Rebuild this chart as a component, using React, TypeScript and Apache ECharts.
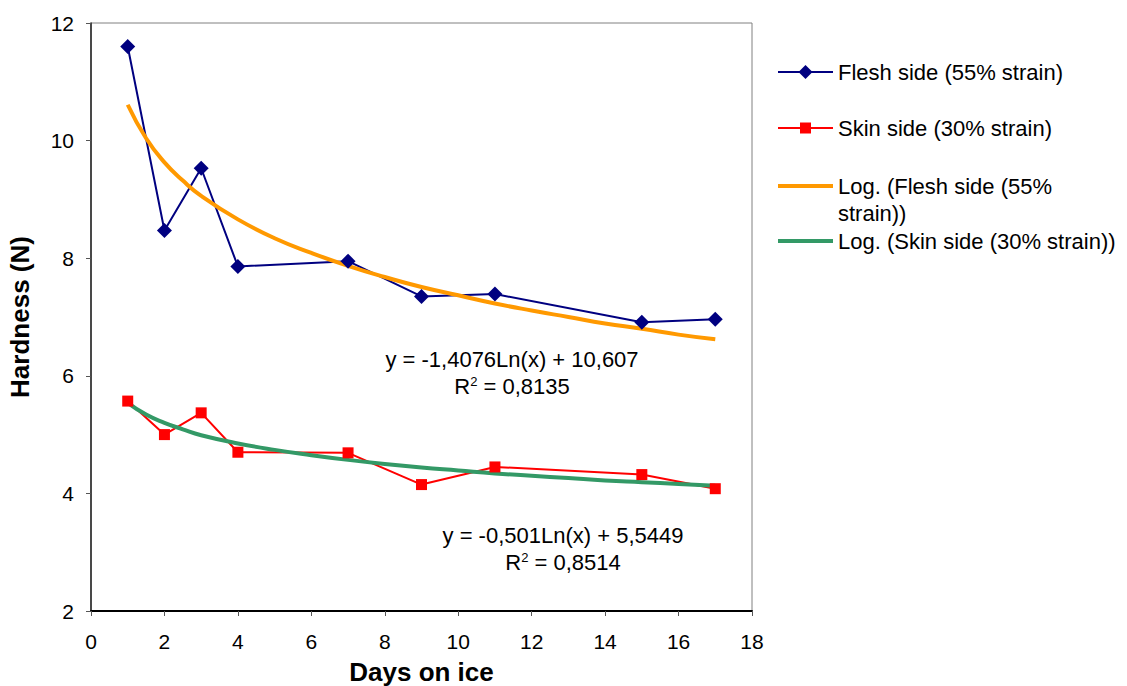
import React, { useEffect, useRef } from "react";
import * as echarts from "echarts";

const days = [1, 2, 3, 4, 7, 9, 11, 15, 17];
const flesh = [11.6, 8.47, 9.53, 7.86, 7.95, 7.35, 7.39, 6.91, 6.96];
const skin = [5.57, 5.0, 5.37, 4.7, 4.69, 4.15, 4.45, 4.32, 4.08];
const trendDays = [1, 1.5, 2, 2.5, 3, 4, 5, 6, 7, 8, 9, 10, 11, 12, 13, 14, 15, 16, 17];
const fleshTrend = [10.61, 10.04, 9.63, 9.32, 9.06, 8.66, 8.34, 8.09, 7.87, 7.68, 7.51, 7.37, 7.23, 7.11, 7.0, 6.89, 6.8, 6.7, 6.62];
const skinTrend = [5.54, 5.34, 5.2, 5.09, 4.99, 4.85, 4.74, 4.65, 4.57, 4.5, 4.44, 4.39, 4.34, 4.3, 4.26, 4.22, 4.19, 4.16, 4.13];

const seriesNames = [
  "Flesh side (55% strain)",
  "Skin side (30% strain)",
  "Log. (Flesh side (55% strain))",
  "Log. (Skin side (30% strain))",
];
const eqFlesh = "y = -1,4076Ln(x) + 10,607";
const r2Flesh = "0,8135";
const eqSkin = "y = -0,501Ln(x) + 5,5449";
const r2Skin = "0,8514";

const FONT = "Liberation Sans, Arial, sans-serif";
const NAVY = "#000080";
const RED = "#FF0000";
const ORANGE = "#FF9900";
const GREEN = "#339966";

const pairs = (xs: number[], ys: number[]) => xs.map((x, i) => [x, ys[i]]);

export default function App() {
  const ref = useRef<HTMLDivElement>(null);
  useEffect(() => {
    if (!ref.current) return;
    const chart = echarts.init(ref.current, null, { renderer: "svg" });
    const textStyle = { fontFamily: FONT, fontSize: 22, fill: "#000" };
    const legendX = 778;
    const legendItems = [
      { y: 72, color: NAVY, w: 2, marker: "diamond", lines: [seriesNames[0]] },
      { y: 128, color: RED, w: 2, marker: "square", lines: [seriesNames[1]] },
      { y: 186, color: ORANGE, w: 4, marker: "", lines: ["Log. (Flesh side (55%", "strain))"] },
      { y: 241, color: GREEN, w: 4, marker: "", lines: [seriesNames[3]] },
    ];
    const graphics: any[] = [];
    legendItems.forEach((it) => {
      graphics.push({
        type: "line",
        shape: { x1: legendX, y1: it.y, x2: legendX + 55, y2: it.y },
        style: { stroke: it.color, lineWidth: it.w },
      });
      if (it.marker === "diamond") {
        graphics.push({
          type: "polygon",
          shape: { points: [[legendX + 27.5, it.y - 7], [legendX + 34.5, it.y], [legendX + 27.5, it.y + 7], [legendX + 20.5, it.y]] },
          style: { fill: it.color },
        });
      } else if (it.marker === "square") {
        graphics.push({
          type: "rect",
          shape: { x: legendX + 22, y: it.y - 5.5, width: 11, height: 11 },
          style: { fill: it.color },
        });
      }
      it.lines.forEach((t, k) => {
        graphics.push({
          type: "text",
          x: legendX + 60,
          y: it.y + k * 27,
          style: { ...textStyle, text: t, verticalAlign: "middle", align: "left" },
        });
      });
    });
    const rich = {
      sup: { fontFamily: FONT, fontSize: 13, verticalAlign: "top", padding: [0, 0, 10, 0] },
    };
    graphics.push(
      { type: "text", x: 512, y: 359, style: { ...textStyle, text: eqFlesh, align: "center", verticalAlign: "middle" } },
      { type: "text", x: 512, y: 386, style: { ...textStyle, text: "R{sup|2} = " + r2Flesh, rich, align: "center", verticalAlign: "middle" } },
      { type: "text", x: 563, y: 535, style: { ...textStyle, text: eqSkin, align: "center", verticalAlign: "middle" } },
      { type: "text", x: 563, y: 562, style: { ...textStyle, text: "R{sup|2} = " + r2Skin, rich, align: "center", verticalAlign: "middle" } }
    );

    chart.setOption({
      animation: false,
      backgroundColor: "#fff",
      grid: {
        left: 91,
        right: 375,
        top: 23,
        bottom: 75,
        show: true,
        borderColor: "#808080",
        borderWidth: 1,
        containLabel: false,
        outerBoundsMode: "none",
      },
      xAxis: {
        type: "value",
        min: 0,
        max: 18,
        interval: 2,
        name: "Days on ice",
        nameLocation: "middle",
        nameGap: 48,
        nameTextStyle: { fontFamily: FONT, fontSize: 26, fontWeight: "bold", color: "#000" },
        axisLine: { show: true, lineStyle: { color: "#000", width: 2 } },
        axisTick: { show: true, length: 5, lineStyle: { color: "#555" } },
        axisLabel: { fontFamily: FONT, fontSize: 21, color: "#000", margin: 20 },
        splitLine: { show: false },
      },
      yAxis: {
        type: "value",
        min: 2,
        max: 12,
        interval: 2,
        name: "Hardness (N)",
        nameLocation: "middle",
        nameGap: 58,
        nameTextStyle: { fontFamily: FONT, fontSize: 26, fontWeight: "bold", color: "#000" },
        axisLine: { show: true, lineStyle: { color: "#222", width: 1.5 } },
        axisTick: { show: true, length: 5, lineStyle: { color: "#555" } },
        axisLabel: { fontFamily: FONT, fontSize: 21, color: "#000", margin: 17 },
        splitLine: { show: false },
      },
      series: [
        {
          name: seriesNames[0],
          type: "line",
          data: pairs(days, flesh),
          symbol: "diamond",
          symbolSize: 15,
          itemStyle: { color: NAVY },
          lineStyle: { color: NAVY, width: 2 },
        },
        {
          name: seriesNames[1],
          type: "line",
          data: pairs(days, skin),
          symbol: "rect",
          symbolSize: 11,
          itemStyle: { color: RED },
          lineStyle: { color: RED, width: 2 },
        },
        {
          name: seriesNames[2],
          type: "line",
          data: pairs(trendDays, fleshTrend),
          smooth: true,
          showSymbol: false,
          symbol: "none",
          lineStyle: { color: ORANGE, width: 4 },
        },
        {
          name: seriesNames[3],
          type: "line",
          data: pairs(trendDays, skinTrend),
          smooth: true,
          showSymbol: false,
          symbol: "none",
          lineStyle: { color: GREEN, width: 4 },
        },
      ],
      graphic: graphics,
    });
    return () => chart.dispose();
  }, []);
  return <div ref={ref} style={{ width: 1127, height: 686, position: "absolute", left: 0, top: 0 }} />;
}
